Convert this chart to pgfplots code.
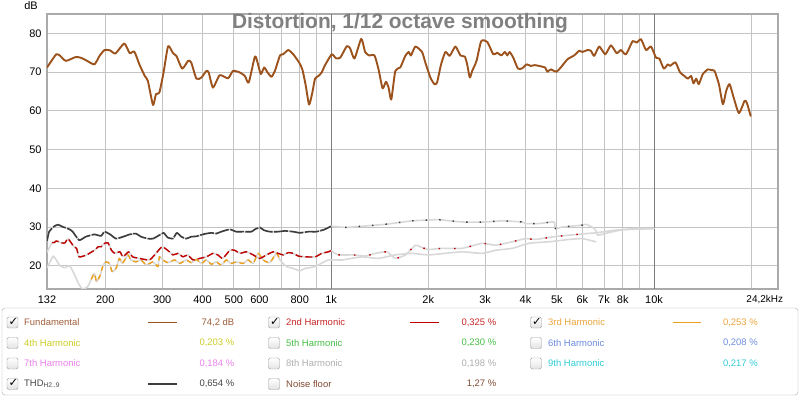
\documentclass[border=0pt]{standalone}
\usepackage{pgfplots}
\pgfplotsset{compat=1.18}
\usepackage{pgfplotstable}
\usepackage{fontspec}
\setmainfont{Liberation Sans}
\newfontfamily\dejavu{DejaVu Sans}
\definecolor{fund}{RGB}{155,82,28}
\definecolor{h2}{RGB}{192,0,0}
\definecolor{h3}{RGB}{235,160,30}
\definecolor{thd}{RGB}{60,60,60}
\definecolor{lg}{RGB}{216,216,216}
\definecolor{gridc}{RGB}{196,196,196}
\definecolor{gridd}{RGB}{125,125,125}
\definecolor{framec}{RGB}{170,170,170}
\definecolor{tfund}{RGB}{160,95,60}
\definecolor{th2}{RGB}{200,40,40}
\definecolor{th3}{RGB}{235,165,60}
\definecolor{th4}{RGB}{205,205,40}
\definecolor{th5}{RGB}{70,190,70}
\definecolor{th6}{RGB}{110,140,225}
\definecolor{th7}{RGB}{235,130,235}
\definecolor{th8}{RGB}{175,175,175}
\definecolor{th9}{RGB}{50,205,215}
\definecolor{tthd}{RGB}{70,70,70}
\definecolor{tnoise}{RGB}{130,75,50}

\pgfplotstableread{
f db
132 71.2
134 72.0
141 74.6
145 74.2
151 72.9
162 73.9
168 73.7
174 73.1
185 72.0
192 74.2
199 75.7
207 75.6
215 74.8
229 77.4
238 74.9
246 75.3
255 72.0
265 69.0
271 67.7
281 61.5
287 64.3
294 64.7
303 69.9
313 76.7
324 74.9
332 74.2
346 70.9
361 72.9
369 72.5
383 68.3
397 68.6
411 70.3
418 69.9
431 66.0
452 69.2
480 68.4
497 70.3
522 69.9
541 69.0
556 67.3
581 74.0
592 72.5
606 69.5
621 71.2
636 69.9
654 68.8
670 70.3
695 74.3
711 74.6
737 75.7
764 74.6
796 72.5
815 70.7
835 66.5
855 61.6
875 64.7
892 68.3
914 69.0
935 69.9
958 71.8
1005 74.6
1034 73.6
1067 73.7
1119 76.7
1146 76.1
1182 73.5
1240 78.6
1275 75.2
1312 74.3
1363 74.3
1403 70.7
1444 65.8
1479 67.5
1507 66.0
1536 62.9
1581 70.3
1638 71.2
1698 74.2
1739 75.2
1768 74.3
1824 76.6
1913 75.2
1958 72.5
2030 68.6
2089 66.9
2129 67.3
2191 72.0
2260 75.2
2330 74.2
2427 76.6
2515 74.3
2595 74.0
2639 72.0
2689 68.6
2735 70.3
2821 72.9
2917 78.0
3045 77.8
3179 74.6
3271 75.0
3365 74.3
3454 75.2
3513 74.3
3572 75.2
3667 73.7
3791 70.9
3910 71.0
4033 72.0
4150 71.6
4270 71.8
4405 71.6
4511 71.4
4598 71.2
4676 70.1
4789 70.7
4987 70.1
5144 71.2
5395 73.3
5657 74.3
5862 75.5
6004 75.2
6223 75.7
6374 75.5
6527 74.2
6764 76.6
7064 74.6
7355 76.9
7658 74.9
7898 75.7
8185 74.6
8587 78.0
8835 77.6
9112 78.5
9445 75.7
9788 76.6
10144 73.7
10388 73.5
10720 70.9
11030 72.0
11212 71.6
11649 72.5
12040 69.9
12420 69.0
12721 68.3
13026 69.0
13245 67.1
13500 68.3
13761 66.9
14160 69.5
14677 70.7
15031 70.5
15390 70.3
15877 66.9
16337 61.7
16733 65.2
17134 66.9
17631 63.5
18318 59.4
19075 62.6
19395 62.0
19910 58.7
}\fund

\pgfplotstableread{
f db
132 26.4
134 28.8
139 30.2
143 30.6
148 30.0
151 29.8
155 29.4
158.5 28.8
166 26.6
174 27.5
185 28.1
194 27.7
199 28.8
207 28.1
216 27.0
229 27.6
238 28.1
249 28.3
258 27.5
271 27.0
281 27.0
294 27.9
303 28.5
312 27.3
324 27.0
333 28.5
344 27.5
356 27.0
369 27.5
383 27.6
401 28.1
411 28.3
426 28.5
441 28.3
457 28.8
486 29.4
508 28.8
534 28.8
567 28.8
581 29.4
602 29.9
619 29.2
646 28.8
686 28.8
720 29.0
764 28.8
801 28.5
850 28.8
900 28.8
950 29.3
1000 30.2
1105 29.9
1245 30.2
1471 30.7
1780 31.6
2003 31.8
2154 31.9
2546 31.3
3008 31.3
3388 31.6
3910 31.3
4000 30.9
4405 30.9
4900 31.3
4950 29.6
5200 30.0
6000 30.5
6150 30.7
6430 30.0
6600 29.2
6700 27.9
7350 28.7
8000 29.3
8700 29.6
10000 29.6
}\thd

\pgfplotstableread{
f db
132 23.5
137 26.0
139 26.0
141 26.4
147 25.9
150 25.9
153 27.0
156 26.2
160 24.9
163 24.5
166 22.3
175 22.8
185 24.0
190 24.9
194 24.9
199 25.8
204 25.9
209 24.0
214 23.2
222 23.6
227 22.3
236 23.6
243 22.3
255 21.9
274 21.5
287 23.2
296 24.5
301 24.9
312 24.0
324 22.8
336 23.2
348 22.3
360 22.8
374 21.5
392 21.9
411 22.3
431 23.2
446 22.8
462 21.9
486 24.0
503 24.0
522 23.2
547 23.6
574 22.8
602 21.9
631 22.8
662 23.6
686 23.2
711 22.8
737 23.4
764 23.2
792 22.5
830 22.3
892 22.3
936 23.2
981 23.6
1000 23.9
1054 22.8
1173 22.8
1275 22.5
1370 23.2
1489 23.6
1580 21.9
1700 22.8
1824 25.3
1890 24.9
2000 24.2
2206 24.5
2546 24.5
2940 25.8
3230 25.3
3640 26.2
4000 27.0
4300 26.8
4900 27.5
5460 27.9
6150 28.3
6600 28.5
7620 29.2
8500 29.4
10000 29.6
}\htwo

\pgfplotstableread{
f db
132 19.5
135 21.0
138 22.5
141 21.5
145 20.0
150 19.5
155 20.0
160 18.0
165 15.5
170 14.0
176 14.5
181 16.5
185 18.0
188 15.9
193 17.6
197 20.2
201 21.0
206 20.6
210 18.5
216 19.3
221 21.9
226 20.6
235 22.8
240 21.5
249 21.0
258 21.5
268 20.2
281 21.0
291 19.8
294 22.3
301.5 21.5
312.5 20.8
328 21.5
340 20.6
356 21.5
369 20.8
383 21.6
397 20.6
411 21.5
426 20.4
441 21.0
457 20.2
474 21.5
491 20.6
509 21.0
534 20.6
554 21.5
574 20.6
595 23.2
616 21.5
646 20.8
678 23.2
694.5 21.5
728 19.8
764 19.3
801 18.7
830 19.3
892 19.8
981 21.5
1080 21.5
1245 22.3
1400 21.9
1580 22.8
1780 23.2
2000 22.8
2250 23.2
2550 23.6
2940 23.2
3230 24.0
3640 24.5
4100 25.8
4740 26.2
5460 26.8
6000 27.0
6600 26.2
}\hthree

\newcommand{\cbox}[3]{% x, y, checked
  \draw[gray!75, top color=white, bottom color=gray!22, rounded corners=1.5] (#1-5.5,#2-5.5) rectangle (#1+5.5,#2+5.5);
  \ifx#3y\node[inner sep=0] at (#1+0.8,#2+0.8) {\dejavu\bfseries\fontsize{11.5}{11.5}\selectfont ✓};\fi
}

\begin{document}
\begin{tikzpicture}
\path[use as bounding box] (0bp,0bp) rectangle (800bp,397bp);
\begin{axis}[
  at={(47bp,108bp)}, anchor=south west, scale only axis,
  width=731bp, height=275bp,
  xmode=log, xmin=132, xmax=24200, ymin=14, ymax=85,
  xtick={132,200,300,400,500,600,700,800,900,1000,2000,3000,4000,5000,6000,7000,8000,9000,10000,20000,24200},
  xticklabels={132,200,300,400,500,600,,800,,1k,2k,3k,4k,5k,6k,7k,8k,,10k,,{\hbox to 0pt{\hss\fontsize{10}{11}\selectfont 24,2kHz\hskip-5bp}}},
  minor x tick num=0,
  ytick={20,30,40,50,60,70,80},
  yticklabels={20,30,40,50,60,70,80},
  xmajorgrids, ymajorgrids,
  major grid style={gridc, line width=0.8bp},
  major tick length=0pt,
  extra x ticks={1000,10000}, extra x tick labels={},
  extra x tick style={grid=major, major grid style={gridd, line width=0.9bp}},
  axis line style={framec, line width=1.8bp},
  tick label style={font=\fontsize{11}{12}\selectfont, text=black},
  xticklabel style={yshift=-3bp},
  yticklabel style={xshift=-2bp},
  every axis plot/.append style={line join=round, line cap=round},
]
% light grey full curves
\addplot[lg, line width=1.6bp, smooth, tension=0.3] table[x=f,y=db] {\hthree};
\addplot[lg, line width=1.6bp, smooth, tension=0.3] table[x=f,y=db] {\htwo};
\addplot[lg, line width=1.6bp, smooth, tension=0.3] table[x=f,y=db] {\thd};
% coloured parts
\addplot[h3, line width=1.4bp, smooth, tension=0.3, dash pattern=on 5bp off 4bp, line cap=butt,
  restrict expr to domain={\thisrow{f}}{180:720}] table[x=f,y=db] {\hthree};
\addplot[h2, line width=1.4bp, smooth, tension=0.3, dash pattern=on 7bp off 3bp, line cap=butt,
  restrict expr to domain={\thisrow{f}}{134:1010}] table[x=f,y=db] {\htwo};
\addplot[h2, line width=1.4bp, smooth, tension=0.3, dash pattern=on 1.5bp off 14bp, line cap=butt,
  restrict expr to domain={\thisrow{f}}{1010:6300}] table[x=f,y=db] {\htwo};
\addplot[thd, line width=1.6bp, smooth, tension=0.3, dash pattern=on 14bp off 1.5bp, line cap=butt,
  restrict expr to domain={\thisrow{f}}{132:1010}] table[x=f,y=db] {\thd};
\addplot[thd, line width=1.4bp, smooth, tension=0.3, dash pattern=on 1.5bp off 12bp, line cap=butt,
  restrict expr to domain={\thisrow{f}}{1010:6300}] table[x=f,y=db] {\thd};
% fundamental
\addplot[fund, line width=1.9bp, smooth, tension=0.35] table[x=f,y=db] {\fund};
\end{axis}
\begin{scope}[x=1bp,y=1bp]
% title and unit
\node[font=\bfseries\fontsize{21}{21}\selectfont, text={rgb,255:red,128;green,128;blue,128}] at (400,374) {Distortion, 1/12 octave smoothing};
\node[anchor=east, inner sep=0, font=\fontsize{11}{12}\selectfont] at (38,391) {dB};
% legend panel
\draw[gray!65, fill=white, rounded corners=3] (2,2) rectangle (798,89);
\begin{scope}[every node/.style={inner sep=0, font=\fontsize{9.5}{11}\selectfont}]
% row 1
\cbox{12.5}{74.5}{y}
\node[anchor=west, text=tfund] at (24,74.5) {Fundamental};
\draw[fund, line width=1.8bp] (148,74.5) -- (177,74.5);
\node[anchor=east, text=tfund] at (234.5,74.5) {74,2 dB};
\cbox{274}{74.5}{y}
\node[anchor=west, text=th2] at (286,74.5) {2nd Harmonic};
\draw[h2, line width=1.8bp] (410,74.5) -- (439,74.5);
\node[anchor=east, text=th2] at (496.5,74.5) {0,325 \%};
\cbox{536}{74.5}{y}
\node[anchor=west, text=th3] at (548,74.5) {3rd Harmonic};
\draw[h3, line width=1.8bp] (673,74.5) -- (701,74.5);
\node[anchor=east, text=th3] at (758,74.5) {0,253 \%};
% row 2
\cbox{12.5}{54}{n}
\node[anchor=west, text=th4] at (24,54) {4th Harmonic};
\node[anchor=east, text=th4] at (234.5,54) {0,203 \%};
\cbox{274}{54}{n}
\node[anchor=west, text=th5] at (286,54) {5th Harmonic};
\node[anchor=east, text=th5] at (496.5,54) {0,230 \%};
\cbox{536}{54}{n}
\node[anchor=west, text=th6] at (548,54) {6th Harmonic};
\node[anchor=east, text=th6] at (758,54) {0,208 \%};
% row 3
\cbox{12.5}{33.5}{n}
\node[anchor=west, text=th7] at (24,33.5) {7th Harmonic};
\node[anchor=east, text=th7] at (234.5,33.5) {0,184 \%};
\cbox{274}{33.5}{n}
\node[anchor=west, text=th8] at (286,33.5) {8th Harmonic};
\node[anchor=east, text=th8] at (496.5,33.5) {0,198 \%};
\cbox{536}{33.5}{n}
\node[anchor=west, text=th9] at (548,33.5) {9th Harmonic};
\node[anchor=east, text=th9] at (758,33.5) {0,217 \%};
% row 4
\cbox{12.5}{13}{y}
\node[anchor=west, text=tthd] at (24,13) {THD\textsubscript{H2..9}};
\draw[thd, line width=1.8bp] (148,13) -- (177,13);
\node[anchor=east, text=tthd] at (234.5,13) {0,654 \%};
\cbox{274}{13}{n}
\node[anchor=west, text=tnoise] at (286,13) {Noise floor};
\node[anchor=east, text=tnoise] at (496.5,13) {1,27 \%};
\end{scope}
\end{scope}
\end{tikzpicture}
\end{document}
